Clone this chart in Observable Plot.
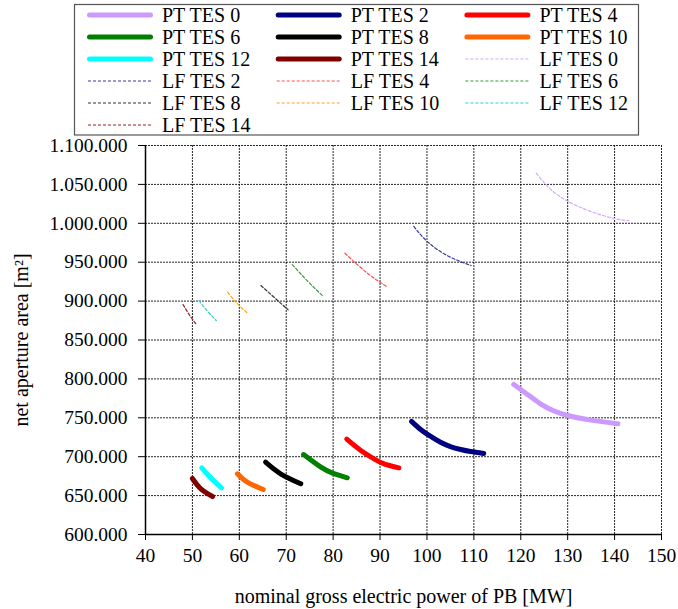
<!DOCTYPE html>
<html>
<head>
<meta charset="utf-8">
<script src="https://cdn.jsdelivr.net/npm/d3@7"></script>
<script src="https://cdn.jsdelivr.net/npm/@observablehq/plot@0.6"></script>
<style>
  html, body { margin: 0; padding: 0; background: #fff; }
  #wrap { position: relative; width: 678px; height: 609px; font-family: 'Liberation Serif', 'DejaVu Serif', serif; }
  #wrap svg text { font-family: 'Liberation Serif', 'DejaVu Serif', serif !important; font-variant: normal !important; }
  #legend { position: absolute; left: 0; top: 0; }
</style>
</head>
<body>
<div id="wrap"></div>
<script>
// ---- data (power in MW, area in m²) ----
const ptNames = ["PT TES 0","PT TES 2","PT TES 4","PT TES 6","PT TES 8","PT TES 10","PT TES 12","PT TES 14"];
const ptColors = ["#cc99ff","#000080","#ff0000","#008000","#000000","#ff6600","#00ffff","#800000"];
const ptPower = [
  [118.5,121,124.2,127,130,135,140.7],
  [96.7,98.65,100.8,102.9,105.0,107.2,109.3,112.1],
  [82.9,85.9,88.7,91,94.0],
  [73.7,77.4,80,83.0],
  [65.6,68.8,73.1],
  [59.6,61.7,65.1],
  [52.0,53.9,56.2],
  [50.0,51.8,54.3]
];
const ptArea = [
  [792800,782000,768000,759000,753000,747000,742300],
  [745400,735000,726000,718500,713000,709300,706700,704200],
  [722500,708000,697300,690500,685700],
  [702800,686500,678500,672900],
  [692900,678000,665200],
  [678000,667200,657800],
  [685700,672900,660000],
  [672000,658700,648800]
];
const lfNames = ["LF TES 0","LF TES 2","LF TES 4","LF TES 6","LF TES 8","LF TES 10","LF TES 12","LF TES 14"];
const lfColors = ["#d4aaff","#3a3a9a","#ff5050","#3a9a3a","#333333","#ffa020","#30cccc","#992020"];
const lfPower = [
  [123.3,126.3,130,135,140,143.0],
  [97.2,100,104.3,109.4],
  [82.5,87.3,91.4],
  [71.3,74.5,77.7],
  [64.6,67.4,70.4],
  [57.5,59.7,61.9],
  [51.4,53.2,55.1],
  [48.0,49.4,50.9]
];
const lfArea = [
  [1064400,1044000,1028400,1015000,1006000,1003600],
  [995900,977000,958600,945700],
  [961500,935900,918700],
  [947000,926000,907200],
  [920000,905000,888800],
  [911400,896000,883600],
  [900800,887000,875000],
  [895600,882000,869500]
];
const xTicks = [40,50,60,70,80,90,100,110,120,130,140,150];
const yTicks = [600000,650000,700000,750000,800000,850000,900000,950000,1000000,1050000,1100000];
const xLabel = "nominal gross electric power of PB [MW]";
const yLabel = "net aperture area [m²]";

// ---- build tables ----
const ptRows = [];
ptNames.forEach((n,i) => ptPower[i].forEach((p,j) => ptRows.push({series:n, power:p, area:ptArea[i][j]})));
const lfRows = [];
lfNames.forEach((n,i) => lfPower[i].forEach((p,j) => lfRows.push({series:n, power:p, area:lfArea[i][j]})));

const de = d3.formatLocale({decimal: ",", thousands: ".", grouping: [3], currency: ["", ""]});
const fmt = de.format(",.0f");

const FONT = "'Liberation Serif', 'DejaVu Serif', serif";

const chart = Plot.plot({
  width: 678,
  height: 609,
  marginLeft: 145,
  marginRight: 17,
  marginTop: 145,
  marginBottom: 75,
  style: {fontFamily: FONT, fontSize: "20px", color: "#000", background: "#fff"},
  x: {domain: [40,150]},
  y: {domain: [600000,1100000]},
  color: {domain: [...ptNames, ...lfNames], range: [...ptColors, ...lfColors]},
  marks: [
    Plot.gridX(xTicks.slice(1), {stroke: "#000", strokeOpacity: 0.85, strokeDasharray: "2,1", strokeWidth: 1}),
    Plot.gridY(yTicks.slice(1), {stroke: "#000", strokeOpacity: 0.85, strokeDasharray: "2,1", strokeWidth: 1}),
    Plot.axisX(xTicks, {tickSize: 6, tickPadding: 8, tickFormat: d => String(d), fontSize: 19.5, fontFamily: FONT,
      label: null}),
    Plot.axisX({ticks: [], label: xLabel, labelAnchor: "center", labelOffset: 68, labelArrow: "none",
      fontSize: 20, fontFamily: FONT, tickSize: 0}),
    Plot.axisY(yTicks, {tickSize: 7, tickPadding: 11, tickFormat: fmt, fontSize: 19.5, fontFamily: FONT,
      label: null}),
    Plot.axisY({ticks: [], label: yLabel, labelAnchor: "center", labelOffset: 132, labelArrow: "none",
      fontSize: 20, fontFamily: FONT, tickSize: 0}),
    Plot.ruleX([40], {stroke: "#000", strokeWidth: 1.5}),
    Plot.ruleY([600000], {stroke: "#000", strokeWidth: 1.5}),
    Plot.line(lfRows, {x: "power", y: "area", z: "series", stroke: "series", strokeWidth: 1.2,
      strokeDasharray: "3,2", curve: "natural"}),
    Plot.line(ptRows, {x: "power", y: "area", z: "series", stroke: "series", strokeWidth: 5,
      strokeLinecap: "round", strokeLinejoin: "round", curve: "natural"})
  ]
});
const wrap = document.getElementById("wrap");
wrap.appendChild(chart);

// ---- legend ----
const legendItems = [];
const allNames = [...ptNames, ...lfNames];
const allColors = [...ptColors, ...lfColors];
allNames.forEach((n,i) => legendItems.push({name:n, color:allColors[i], pt: i < ptNames.length}));

const lg = d3.select(wrap).append("svg")
  .attr("id","legend").attr("width",678).attr("height",140);
lg.append("rect").attr("x",74.5).attr("y",4.5).attr("width",564).attr("height",130.5)
  .attr("fill","#fff").attr("stroke","#555").attr("stroke-width",1.2);
legendItems.forEach((d,i) => {
  const col = i % 3, row = Math.floor(i / 3);
  const x0 = 88 + col * 188.7, y0 = 15 + row * 22;
  lg.append("line").attr("x1", x0 + (d.pt ? 1.5 : 0)).attr("x2", x0 + 64 - (d.pt ? 1.5 : 0))
    .attr("y1", y0).attr("y2", y0)
    .attr("stroke", d.color).attr("stroke-width", d.pt ? 5 : 1.2)
    .attr("stroke-linecap", d.pt ? "round" : "butt")
    .attr("stroke-dasharray", d.pt ? null : "3,2");
  lg.append("text").attr("x", x0 + 74).attr("y", y0).attr("dy","0.35em")
    .attr("font-family", "Liberation Serif")
    .attr("font-size", 20).attr("fill","#000").text(d.name);
});
</script>
</body>
</html>
